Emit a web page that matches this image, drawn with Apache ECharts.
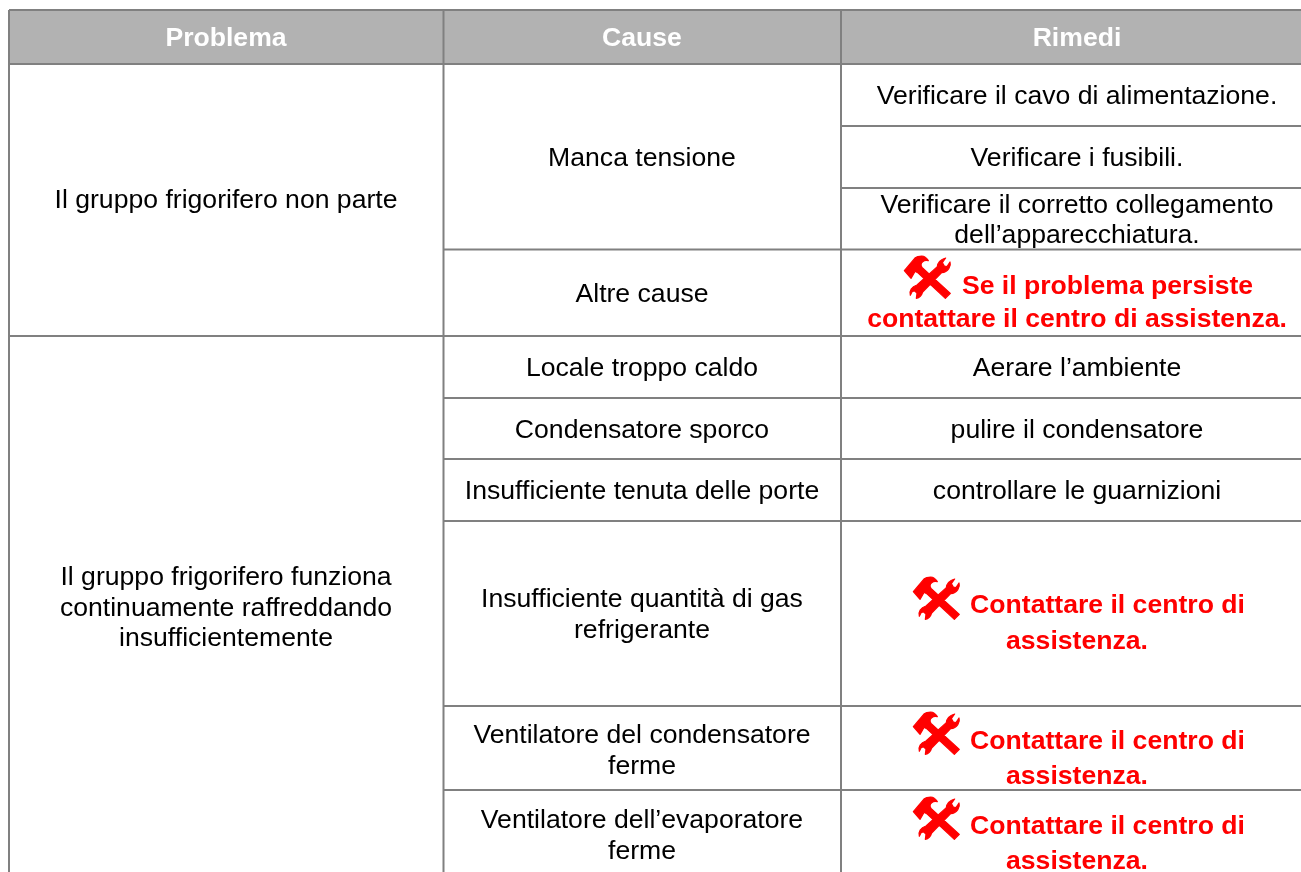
<!DOCTYPE html>
<html lang="it">
<head>
<meta charset="utf-8">
<title>Problema, Cause, Rimedi</title>
<script src="https://cdn.jsdelivr.net/npm/echarts@6/dist/echarts.min.js"></script>
<style>html,body{margin:0;padding:0;background:#fff}#chart{width:1301px;height:872px}</style>
</head>
<body>
<div id="chart"></div>
<script>
// ---- Content ----
const headers = ['Problema', 'Cause', 'Rimedi'];
const problems = [
  ['Il gruppo frigorifero non parte'],
  ['Il gruppo frigorifero funziona', 'continuamente raffreddando', 'insufficientemente']
];
const causes = [
  ['Manca tensione'],
  ['Altre cause'],
  ['Locale troppo caldo'],
  ['Condensatore sporco'],
  ['Insufficiente tenuta delle porte'],
  ['Insufficiente quantità di gas', 'refrigerante'],
  ['Ventilatore del condensatore', 'ferme'],
  ['Ventilatore dell’evaporatore', 'ferme']
];
const remedies = [
  ['Verificare il cavo di alimentazione.'],
  ['Verificare i fusibili.'],
  ['Verificare il corretto collegamento', 'dell’apparecchiatura.'],
  ['Aerare l’ambiente'],
  ['pulire il condensatore'],
  ['controllare le guarnizioni']
];
const warnings = [
  ['Se il problema persiste', 'contattare il centro di assistenza.'],
  ['Contattare il centro di', 'assistenza.'],
  ['Contattare il centro di', 'assistenza.'],
  ['Contattare il centro di', 'assistenza.']
];

// ---- Table layout (separate from the content) ----
const colX = [9, 443.5, 841, 1301];
const colCenter = [226, 642, 1077];
const warnCenter = 1107.5;
const tableTop = 10, headerBottom = 64, tableBottom = 872;
// horizontal rules: [y, first column they start from]
const rules = [[126, 2], [188, 2], [249.5, 1], [336, 0], [398, 1], [459, 1], [521, 1], [706, 1], [790, 1]];
const headerBase = 46;
const problemBase = [[208], [585, 616, 646]];
const causeBase = [[166], [302], [376], [438], [499], [607, 638], [743, 774], [828, 859]];
const remedyBase = [[104], [166], [213, 243], [376], [438], [499]];
const warnBase = [[294, 327], [613, 649], [749, 784], [834, 869]];
const iconPos = [[904, 256], [913, 577], [913, 712], [913, 797]];
const iconBox = [140, 127];

const ICON = 'M0 44L33 5C38 1 45 0 52 0C60 0 67 6 72 14C66 12 60 13 55 17C50 21 49 28 53 34L138 112L123 127L40 50L32 46L20 67Z' +
  'M99 32C100 20 110 10 124 6L114 20L120 30L128 32L137 18C141 30 132 48 112 50L55 108C52 118 45 125 36 127L38 112L32 105L24 106L18 118C14 105 22 92 38 87Z';

const FONT = '"Liberation Sans", Arial, sans-serif', SIZE = 26.6, MID = 7.2;

function lines(groups, bases, x, color, weight) {
  const out = [];
  groups.forEach((g, i) => g.forEach((t, j) => {
    out.push({ t, x: typeof x === 'function' ? x(i, j) : x, y: bases[i][j], color, weight });
  }));
  return out;
}
const textRows = [].concat(
  lines(headers.map(h => [h]), headers.map(() => [headerBase]), (i) => colCenter[i], '#ffffff', 'bold'),
  lines(problems, problemBase, colCenter[0], '#000000', 'normal'),
  lines(causes, causeBase, colCenter[1], '#000000', 'normal'),
  lines(remedies, remedyBase, colCenter[2], '#000000', 'normal'),
  lines(warnings, warnBase, (i, j) => j === 0 ? warnCenter : colCenter[2], '#ff0000', 'bold')
);

const ruleSegs = [
  ...rules.map(r => [colX[r[1]], r[0], colX[3], r[0]]),
  [colX[0], tableTop, colX[3], tableTop],
  [colX[0], headerBottom, colX[3], headerBottom],
  [colX[0], tableTop, colX[0], tableBottom],
  [colX[1], tableTop, colX[1], tableBottom],
  [colX[2], tableTop, colX[2], tableBottom]
];

const chart = echarts.init(document.getElementById('chart'), null, { renderer: 'canvas' });
chart.setOption({
  animation: false,
  backgroundColor: '#ffffff',
  tooltip: { show: false },
  grid: { left: 0, right: 0, top: 0, bottom: 0 },
  xAxis: { type: 'value', min: 0, max: 1301, show: false },
  yAxis: { type: 'value', min: 0, max: 872, inverse: true, show: false },
  series: [
    {
      name: 'header', type: 'custom', silent: true, z: 1,
      data: [[colX[0], tableTop, colX[3], headerBottom]],
      renderItem(p, api) {
        const a = api.coord([api.value(0), api.value(1)]), b = api.coord([api.value(2), api.value(3)]);
        return { type: 'rect', shape: { x: a[0], y: a[1], width: b[0] - a[0], height: b[1] - a[1] }, style: { fill: '#b2b2b2' } };
      }
    },
    {
      name: 'rules', type: 'custom', silent: true, z: 2,
      data: ruleSegs,
      renderItem(p, api) {
        const a = api.coord([api.value(0), api.value(1)]), b = api.coord([api.value(2), api.value(3)]);
        return { type: 'line', shape: { x1: a[0], y1: a[1], x2: b[0], y2: b[1] }, style: { stroke: '#808080', lineWidth: 2 } };
      }
    },
    {
      name: 'icons', type: 'custom', silent: true, z: 3,
      data: iconPos,
      renderItem(p, api) {
        const a = api.coord([api.value(0), api.value(1)]);
        return {
          type: 'path',
          shape: { pathData: ICON, x: a[0], y: a[1], width: iconBox[0] / 3, height: iconBox[1] / 3, layout: 'center' },
          style: { fill: '#ff0000', stroke: '#ff0000', lineWidth: 1.2, lineJoin: 'round' }
        };
      }
    },
    {
      name: 'text', type: 'custom', silent: true, z: 4,
      data: textRows.map((r, i) => [r.x, r.y, i]),
      renderItem(p, api) {
        const r = textRows[api.value(2)];
        const a = api.coord([api.value(0), api.value(1) - MID]);
        return {
          type: 'text',
          style: { text: r.t, x: a[0], y: a[1], fill: r.color, align: 'center', verticalAlign: 'middle',
            font: r.weight + ' ' + SIZE + 'px ' + FONT }
        };
      }
    }
  ]
});
</script>
</body>
</html>
